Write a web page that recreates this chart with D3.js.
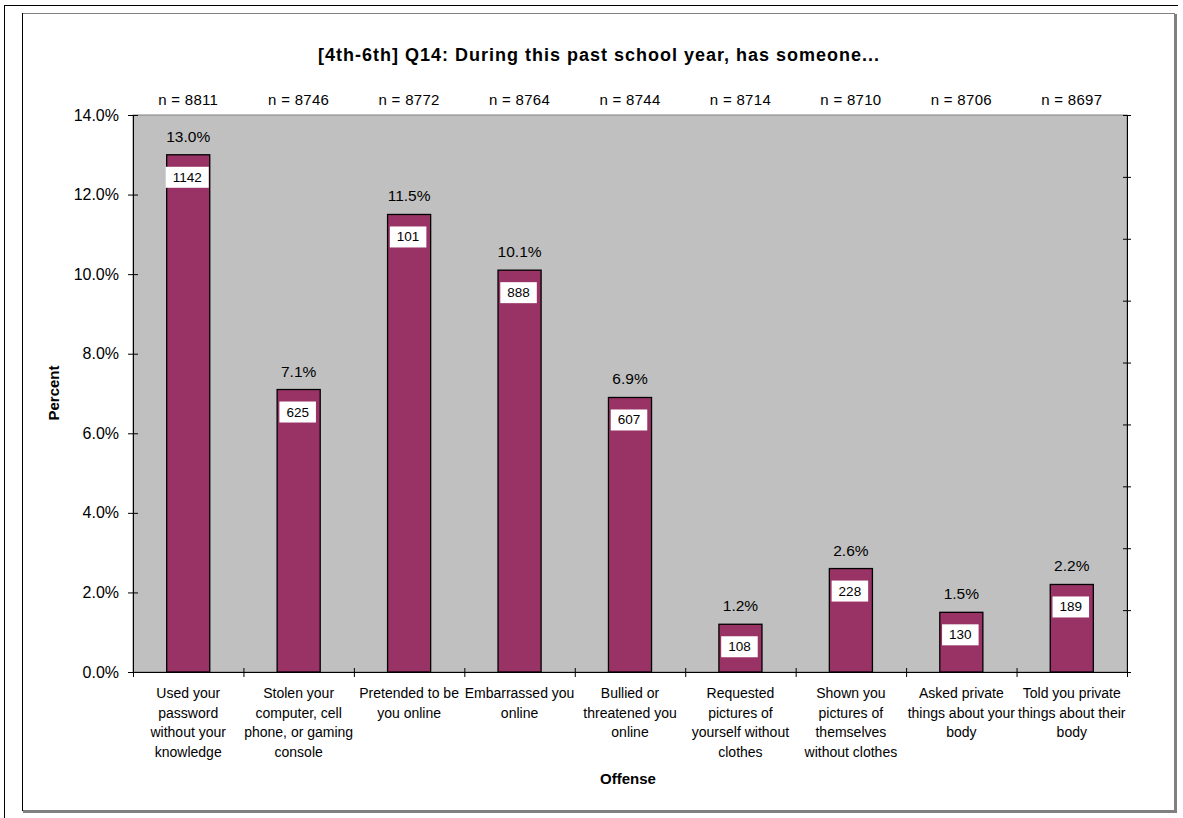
<!DOCTYPE html>
<html><head><meta charset="utf-8">
<script src="https://cdn.jsdelivr.net/npm/d3@7"></script>
<style>body{margin:0;background:#fff}svg{display:block;font-family:"Liberation Sans",Arial,sans-serif}</style>
</head><body><svg id="c" width="1183" height="818"></svg>
<script>
const categories = [
  ["Used your","password","without your","knowledge"],
  ["Stolen your","computer, cell","phone, or gaming","console"],
  ["Pretended to be","you online"],
  ["Embarrassed you","online"],
  ["Bullied or","threatened you","online"],
  ["Requested","pictures of","yourself without","clothes"],
  ["Shown you","pictures of","themselves","without clothes"],
  ["Asked private","things about your","body"],
  ["Told you private","things about their","body"]
];
const percents = [13.0, 7.1, 11.5, 10.1, 6.9, 1.2, 2.6, 1.5, 2.2];
const counts = [1142, 625, 101, 888, 607, 108, 228, 130, 189];
const nValues = [8811, 8746, 8772, 8764, 8744, 8714, 8710, 8706, 8697];
const yTicks = [0, 2, 4, 6, 8, 10, 12, 14];

const svg = d3.select("#c");
const L = 133, R = 1127, T = 115, B = 672;
const idx = d3.range(categories.length);
const x = d3.scaleBand().domain(idx).range([L, R]).paddingInner(0.61).paddingOuter(0.305);
const xb = d3.scaleLinear().domain([0, categories.length]).range([L, R]);
const y = d3.scaleLinear().domain([0, 14]).range([B, T]);
const y2 = d3.scaleLinear().domain([0, 9]).range([B, T]);

// outer borders
svg.append("line").attr("x1",5).attr("y1",5.5).attr("x2",1178).attr("y2",5.5).attr("stroke","#000");
svg.append("line").attr("x1",4.5).attr("y1",5).attr("x2",4.5).attr("y2",818).attr("stroke","#000");
// chart area border with shadow
svg.append("rect").attr("x",22.5).attr("y",13.5).attr("width",1152).attr("height",797).attr("fill","#fff").attr("stroke","#808080");
svg.append("line").attr("x1",22.5).attr("y1",13).attr("x2",22.5).attr("y2",811).attr("stroke","#000");
svg.append("line").attr("x1",1176).attr("y1",14).attr("x2",1176).attr("y2",812).attr("stroke","#808080").attr("stroke-width",2);
svg.append("line").attr("x1",23).attr("y1",812).attr("x2",1177).attr("y2",812).attr("stroke","#808080").attr("stroke-width",2);

// plot area
svg.append("rect").attr("x",L).attr("y",T).attr("width",R-L).attr("height",B-T).attr("fill","#c0c0c0").attr("stroke","#808080");

// title
svg.append("text").attr("x",599).attr("y",61).attr("text-anchor","middle")
  .attr("font-size","18px").attr("font-weight","bold").attr("letter-spacing","1px")
  .text("[4th-6th] Q14: During this past school year, has someone...");

// n labels
svg.selectAll(".n").data(idx).join("text")
  .attr("x", i => x(i) + x.bandwidth()/2).attr("y", 105).attr("text-anchor","middle")
  .attr("font-size","15px").attr("letter-spacing","0.3px").attr("fill","#000").text(i => "n = " + nValues[i]);

// bars
svg.selectAll(".bar").data(idx).join("rect")
  .attr("x", i => x(i)).attr("y", i => y(percents[i]))
  .attr("width", x.bandwidth()).attr("height", i => B - y(percents[i]))
  .attr("fill","#993366").attr("stroke","#000").attr("stroke-width",1.3);

// value labels
svg.selectAll(".v").data(idx).join("text")
  .attr("x", i => x(i) + x.bandwidth()/2).attr("y", i => y(percents[i]) - 13)
  .attr("text-anchor","middle").attr("font-size","15.5px").text(i => percents[i].toFixed(1) + "%");

// count boxes
const cg = svg.selectAll(".cnt").data(idx).join("g");
cg.append("text").attr("class","ct")
  .attr("x", i => x(i) + x.bandwidth()/2 - 1).attr("y", i => y(percents[i]) + 27)
  .attr("text-anchor","middle").attr("font-size","13.5px").text(i => counts[i]);
cg.each(function(i){
  const g = d3.select(this); const t = g.select("text"); const w = t.node().getComputedTextLength();
  const cx = x(i) + x.bandwidth()/2 - 1;
  g.insert("rect","text").attr("x", cx - w/2 - 7).attr("y", y(percents[i]) + 12).attr("width", w + 14).attr("height", 21).attr("fill","#fff");
});

// left axis
const ya = svg.append("g").attr("transform",`translate(${L},0)`)
  .call(d3.axisLeft(y).tickValues(yTicks).tickSize(5).tickFormat(d => d.toFixed(1) + "%"));
ya.select(".domain").attr("stroke","#000");
ya.selectAll(".tick line").attr("x1",5).attr("x2",-5).attr("stroke","#000");
ya.selectAll(".tick text").attr("x",-14).attr("font-size","16px").attr("font-family","Liberation Sans, Arial, sans-serif").attr("fill","#000");

// right axis (ticks only, unlabeled)
const ra = svg.append("g").attr("transform",`translate(${R},0)`)
  .call(d3.axisRight(y2).ticks(9).tickSize(4).tickFormat(""));
ra.select(".domain").attr("stroke","#000");
ra.selectAll(".tick line").attr("x1",-4).attr("x2",4).attr("stroke","#000");

// bottom axis
const xa = svg.append("g").attr("transform",`translate(0,${B})`)
  .call(d3.axisBottom(xb).tickValues(d3.range(0, categories.length + 1)).tickSize(5).tickFormat(""));
xa.select(".domain").attr("stroke","#000");
xa.selectAll(".tick line").attr("y1",-4).attr("y2",5).attr("stroke","#000");

// category labels
svg.selectAll(".cl").data(idx).join("text")
  .attr("x", i => x(i) + x.bandwidth()/2).attr("y", 698).attr("text-anchor","middle").attr("font-size","14px")
  .each(function(i){
    d3.select(this).selectAll("tspan").data(categories[i]).join("tspan")
      .attr("x", x(i) + x.bandwidth()/2).attr("dy", (d, k) => k === 0 ? 0 : 19.5).text(d => d);
  });

// axis titles
svg.append("text").attr("transform","translate(59,393) rotate(-90)").attr("text-anchor","middle")
  .attr("font-size","15px").attr("font-weight","bold").text("Percent");
svg.append("text").attr("x",628).attr("y",784).attr("text-anchor","middle")
  .attr("font-size","15px").attr("font-weight","bold").text("Offense");
</script></body></html>
